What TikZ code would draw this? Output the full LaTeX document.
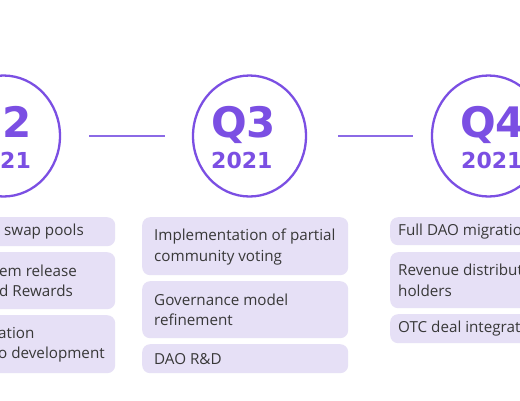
\documentclass[tikz,border=0pt]{standalone}
\usepackage{fontspec}
\setmainfont{Open Sans}
\newfontfamily\qfont{DejaVu Sans}
\usetikzlibrary{shapes.geometric}
\definecolor{pur}{HTML}{7B4FE3}
\definecolor{lin}{HTML}{8B6AE6}
\definecolor{boxc}{HTML}{E6E0F6}
\definecolor{txt}{HTML}{383838}
\begin{document}
\begin{tikzpicture}[x=1pt,y=-1pt,
  ring/.style={ellipse, draw=pur, line width=2.3pt, minimum width=113pt, minimum height=121pt, inner sep=0pt},
  con/.style={draw=lin, line width=1.8pt},
  qbig/.style={font=\qfont\bfseries\fontsize{42}{42}\selectfont, text=pur, inner sep=0pt},
  qyear/.style={font=\qfont\bfseries\fontsize{22}{22}\selectfont, text=pur, inner sep=0pt},
  box/.style={fill=boxc, rounded corners=8pt, inner sep=0pt, minimum width=206pt, anchor=north west},
  bt/.style={align=left, font=\fontsize{15.2}{20.5}\selectfont, text=txt, inner sep=0pt, anchor=west}]
\useasboundingbox (0,0) rectangle (520,400);
\clip (0,0) rectangle (520,400);
\fill[white] (0,0) rectangle (520,400);
% circles
\node[ring] (q2) at (3.5,136) {};
\node[ring] (q3) at (249.5,136) {};
\node[ring] (q4) at (488.5,136) {};
\draw[con, shorten <=28pt, shorten >=27pt] (q2.east) -- (q3.west);
\draw[con, shorten <=31pt, shorten >=18pt] (q3.east) -- (q4.west);
% labels
\node[qbig, anchor=base east] (q2a) at (32,137) {Q2};
\node[qyear, anchor=base east] (q2b) at (31,168) {2021};
\node[qbig, anchor=base west] (q3a) at (211,137) {Q3};
\node[qyear, anchor=base west] (q3b) at (211,168) {2021};
\node[qbig, anchor=base west] (q4a) at (460,137) {Q4};
\node[qyear, anchor=base west] (q4b) at (461,168) {2021};
% left column
\node[box, minimum height=29pt] (l1) at (-91,217) {};
\node[box, minimum height=57pt] (l2) at (-91,252) {};
\node[box, minimum height=58pt] (l3) at (-91,315) {};
\node[bt] (l1t) at (4,232) {swap pools};
\node[bt] (l2t) at (-1,281) {em release\\d Rewards};
\node[bt] (l3t) at (-2,344.5) {ation\\o development};
% middle column
\node[box, minimum height=58pt] (m1) at (142,217) {};
\node[box, minimum height=57pt] (m2) at (142,281) {};
\node[box, minimum height=29pt] (m3) at (142,344) {};
\node[bt] (m1t) at (154,247) {Implementation of partial\\community voting};
\node[bt] (m2t) at (154,310) {Governance model\\refinement};
\node[bt] (m3t) at (154,359) {DAO R\&D};
% right column
\node[box, minimum height=28pt] (r1) at (390,217) {};
\node[box, minimum height=56pt] (r2) at (390,252) {};
\node[box, minimum height=29pt] (r3) at (390,314) {};
\node[bt] (r1t) at (398,231.5) {Full DAO migration};
\node[bt] (r2t) at (398,280.5) {Revenue distribution to\\holders};
\node[bt] (r3t) at (398,329) {OTC deal integration};
\end{tikzpicture}
\end{document}
